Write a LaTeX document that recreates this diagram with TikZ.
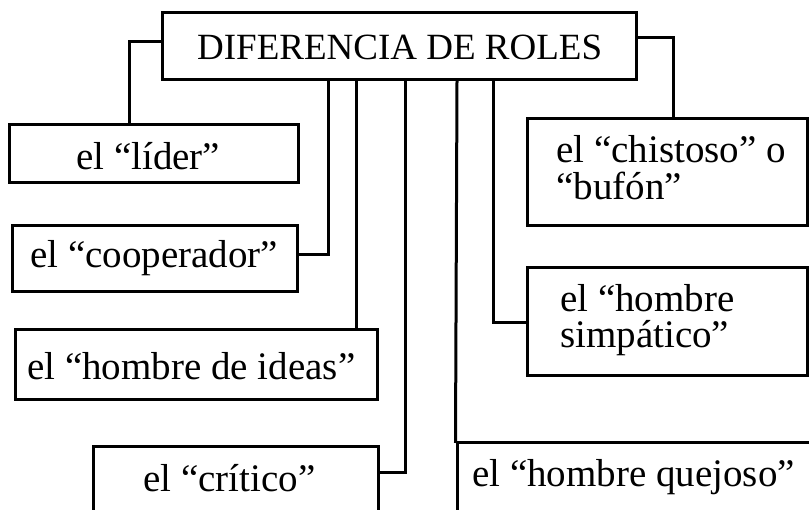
\documentclass[tikz,border=0pt]{standalone}
\usepackage{fontspec}
\setmainfont{Liberation Serif}
\begin{document}
\begin{tikzpicture}[x=1pt,y=-1pt,
  box/.style={draw, line width=3pt, rectangle, inner sep=0pt},
  conn/.style={line width=3pt, line cap=rect, line join=miter},
  txt/.style={inner sep=0pt, anchor=base west, font=\fontsize{39}{39}\selectfont},
  ttl/.style={inner sep=0pt, anchor=base west, font=\fontsize{37}{37}\selectfont}]
\useasboundingbox (0,0) rectangle (809,510);
\clip (0,0) rectangle (809,510);

% boxes
\node[box, minimum width=474pt, minimum height=67pt] (title) at (399,46.5) {};
\node[box, minimum width=289pt, minimum height=58pt] (lider) at (153.5,154) {};
\node[box, minimum width=285pt, minimum height=66pt] (coop) at (154.5,259) {};
\node[box, minimum width=362pt, minimum height=70pt] (ideas) at (196,365) {};
\node[box, minimum width=285pt, minimum height=83pt] (critico) at (235.5,488.5) {};
\node[box, minimum width=280pt, minimum height=107pt] (chist) at (667,172.5) {};
\node[box, minimum width=280pt, minimum height=108pt] (simp) at (667,322) {};
\node[box, minimum width=358pt, minimum height=87pt] (quejoso) at (636,486.5) {};

% texts
\node[ttl] (ttitle) at (197,60) {DIFERENCIA DE ROLES};
\node[txt] (tlider) at (76,170) {el “líder”};
\node[txt] (tcoop) at (30,268) {el “cooperador”};
\node[txt] (tideas) at (27,380) {el “hombre de ideas”};
\node[txt] (tcritico) at (143,492) {el “crítico”};
\node[txt] (tchistA) at (556,163) {el “chistoso” o};
\node[txt] (tchistB) at (556,200) {“bufón”};
\node[txt] (tsimpA) at (560,312) {el “hombre};
\node[txt] (tsimpB) at (560,348) {simpático”};
\node[txt] (tquejoso) at (472,487) {el “hombre quejoso”};

% connectors
\draw[conn] (title.west |- 0,42) -| (lider.north -| 129,0);
\draw[conn] (title.east |- 0,38) -| (chist.north -| 673,0);
\draw[conn] (title.south -| 328,0) |- (coop.east |- 0,255);
\draw[conn] (title.south -| 356,0) -- (ideas.north -| 356,0);
\draw[conn] (title.south -| 405,0) |- (critico.east |- 0,473);
\draw[conn] (title.south -| 457,0) -- (quejoso.north west);
\draw[conn] (title.south -| 493,0) |- (simp.west |- 0,323);
\end{tikzpicture}
\end{document}
